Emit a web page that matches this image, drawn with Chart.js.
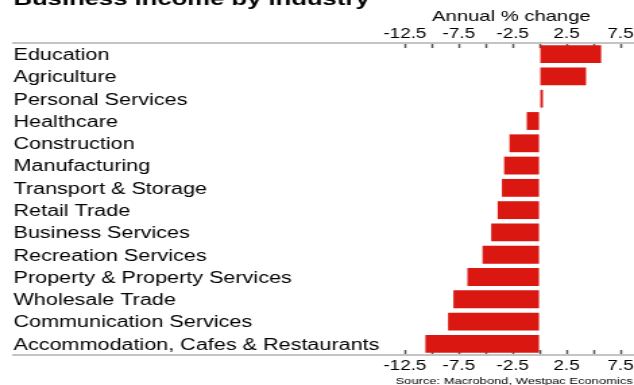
<!DOCTYPE html>
<html>
<head>
<meta charset="utf-8">
<script src="https://cdn.jsdelivr.net/npm/chart.js@4/dist/chart.umd.min.js"></script>
<style>
  html, body { margin: 0; padding: 0; background: #fff; overflow: hidden; }
  #myChart { margin-top: -12px; }
</style>
</head>
<body>
<!-- drawn narrow, shown wide: the whole chart is stretched horizontally -->
<canvas id="myChart" width="470" height="405" style="width: 634px; height: 405px;"></canvas>
<script>
'use strict';

const industries = [
  'Education',
  'Agriculture',
  'Personal Services',
  'Healthcare',
  'Construction',
  'Manufacturing',
  'Transport & Storage',
  'Retail Trade',
  'Business Services',
  'Recreation Services',
  'Property & Property Services',
  'Wholesale Trade',
  'Communication Services',
  'Accommodation, Cafes & Restaurants'
];
// annual % change in business income
const incomeChange = [5.7, 4.3, 0.3, -1.2, -2.8, -3.3, -3.5, -3.9, -4.5, -5.3, -6.7, -8.0, -8.5, -10.6];

const xTickValues = [-12.5, -10, -7.5, -5, -2.5, 0, 2.5, 5, 7.5];
const xTickLabels = ['-12.5', '', '-7.5', '', '-2.5', '', '2.5', '', '7.5'];

const FONT = 'Liberation Sans, Arial, sans-serif';
const RED = '#da1710';

// axis caption above the ticks and the source note under the chart
const notes = {
  id: 'notes',
  afterDraw(chart) {
    const c = chart.ctx;
    const top = chart.scales.x;
    const bottom = chart.scales.x2;
    const mid = (xTickValues[0] + xTickValues[xTickValues.length - 1]) / 2;
    c.save();
    c.fillStyle = '#000';
    c.textBaseline = 'middle';
    c.font = '15px ' + FONT;
    c.textAlign = 'center';
    c.fillText('Annual % change', top.getPixelForValue(mid) - 1, top.top - 4);
    c.font = '9.6px ' + FONT;
    c.textAlign = 'right';
    c.fillText('Source: Macrobond, Westpac Economics', chart.width - 1, bottom.top + 26);
    c.restore();
  }
};

function xAxis(position, pad) {
  return {
    type: 'linear',
    position: position,
    min: -48.8,
    max: 8.75,
    afterBuildTicks: (axis) => {
      axis.ticks = xTickValues.map(v => ({ value: v }));
    },
    // the plot runs right up to the canvas edge, labels may overhang
    afterFit: (axis) => {
      axis.paddingLeft = 0;
      axis.paddingRight = 0;
    },
    ticks: {
      autoSkip: false,
      maxRotation: 0,
      padding: pad,
      color: '#000',
      font: { family: FONT, size: 14 },
      callback: (value, index) => xTickLabels[index]
    },
    grid: {
      drawOnChartArea: false,
      drawTicks: true,
      tickLength: -5,
      tickWidth: 1.5,
      tickColor: '#555'
    },
    border: { display: true, color: '#c4c4c4', width: 2 }
  };
}

const ctx = document.getElementById('myChart');

new Chart(ctx, {
  type: 'bar',
  data: {
    labels: industries,
    datasets: [{
      label: 'Annual % change',
      data: incomeChange,
      xAxisID: 'x',
      backgroundColor: RED,
      borderWidth: 0,
      barPercentage: 0.8,
      categoryPercentage: 1
    }]
  },
  options: {
    indexAxis: 'y',
    responsive: false,
    devicePixelRatio: 1,
    animation: false,
    layout: { padding: { left: 10, right: 0, top: 0, bottom: 10.2 } },
    plugins: {
      legend: { display: false },
      tooltip: { enabled: false },
      title: {
        display: true,
        text: 'Business income by industry',
        align: 'start',
        color: '#000',
        font: { family: FONT, size: 19, weight: 'bold' },
        padding: { top: 0, bottom: 10.4 }
      }
    },
    scales: {
      x: xAxis('top', 5),
      x2: xAxis('bottom', 8),
      y: {
        grid: { display: false, drawTicks: false },
        border: { display: false },
        ticks: {
          mirror: true,
          padding: 0,
          labelOffset: 1.5,
          color: '#000',
          font: { family: FONT, size: 16 }
        }
      }
    }
  },
  plugins: [notes]
});
</script>
</body>
</html>
